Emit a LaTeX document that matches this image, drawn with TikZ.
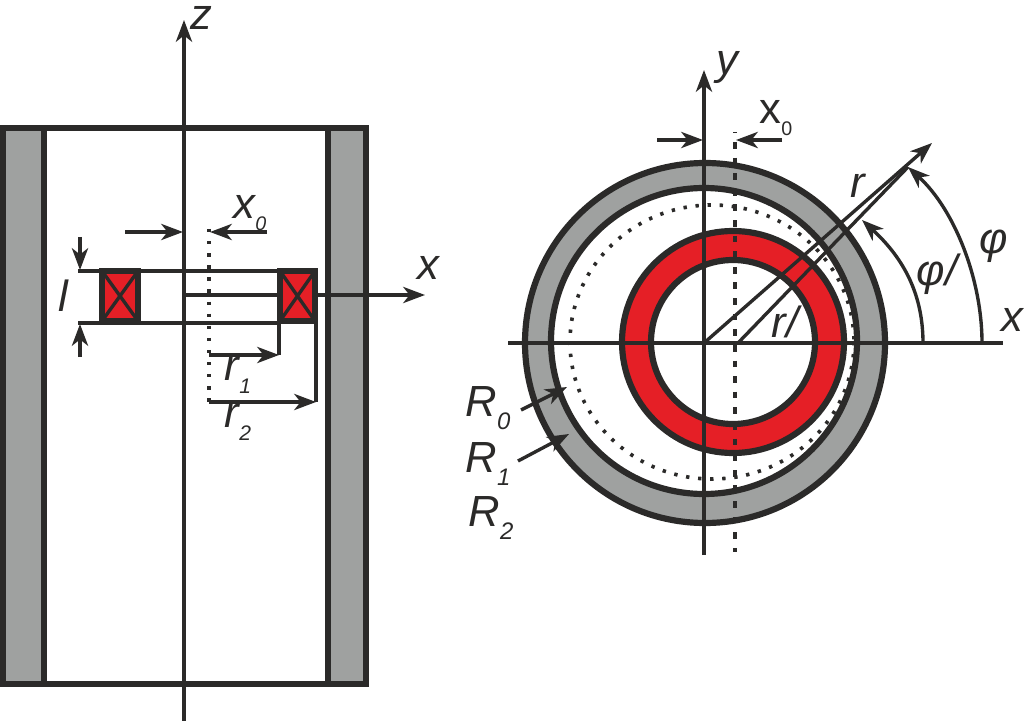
\documentclass[tikz,border=0pt]{standalone}
\usepackage{fontspec}
\setmainfont{Liberation Sans}
\usetikzlibrary{arrows.meta}
\definecolor{wallgray}{HTML}{9FA1A0}
\definecolor{coilred}{HTML}{E51F26}
\definecolor{inkdark}{HTML}{2B2A29}
\tikzset{
  axisline/.style={line width=2.4pt,draw=inkdark},
  wallline/.style={line width=4.4pt,draw=inkdark},
  arr/.style={axisline,-{Stealth[length=15.5pt,width=11.5pt,inset=4.5pt]}},
  dotline/.style={line width=2.6pt,draw=inkdark,dash pattern=on 2.4pt off 6.2pt},
  lab/.style={inner sep=0pt,text=inkdark,font=\fontsize{31}{31}\selectfont\itshape},
  coil/.style={wallline,fill=coilred},
}
\newcommand{\subs}[2][16]{\raisebox{-9pt}{\fontsize{#1}{#1}\selectfont #2}}
\begin{document}
\begin{tikzpicture}[x=0.025cm,y=-0.025cm]
\useasboundingbox (0,0) rectangle (1024,721);
% left view
\fill[wallgray] (3,128) rectangle (44,684);
\fill[wallgray] (328,128) rectangle (366,684);
\draw[wallline] (3,128) rectangle (366,684);
\draw[wallline] (44,128) -- (44,684);
\draw[wallline] (328,128) -- (328,684);
\draw[arr] (184,721) -- (184,20);
\draw[axisline] (78,271) -- (280,271);
\draw[axisline] (78,323) -- (280,323);
\draw[arr] (184,295) -- (425,295);
\draw[coil] (102,271) rectangle (138,321);
\draw[coil] (280,271) rectangle (315,321);
\draw[axisline] (102,271) -- (138,321) (138,271) -- (102,321);
\draw[axisline] (280,271) -- (315,321) (315,271) -- (280,321);
\draw[dotline] (209,229) -- (209,402);
\draw[arr] (125,232) -- (183,232);
\draw[arr] (267,232) -- (210,232);
\draw[arr] (80,237) -- (80,270);
\draw[arr] (80,357) -- (80,324);
\draw[axisline] (279,323) -- (279,355);
\draw[axisline] (316,323) -- (316,402);
\draw[arr] (209,355) -- (279,355);
\draw[arr] (209,402) -- (316,402);
\node[lab] (zlab) at (201,18) {z};
\node[lab] (xzero) at (250,213) {x\subs[14]{0}};
\node[lab] (xlab) at (428,268) {x};
\node[lab] (llab) at (63,296) {l};
\node[lab] (rone) at (238,375) {r\subs[15]{1}};
\node[lab] (rtwo) at (238,422) {r\subs[15]{2}};
% right view
\coordinate (orig) at (705,343);
\coordinate (shift) at (733,342);
\draw[dotline] (712,342) ellipse (142 and 137);
\fill[wallgray,even odd rule] (orig) circle (180) (704,341) circle (153);
\draw[wallline] (orig) circle (180);
\draw[wallline] (704,341) circle (153);
\draw[wallline,fill=coilred,even odd rule] (shift) circle (111) (shift) circle (82);
\draw[axisline] (508,343) -- (1003,343);
\draw[arr] (704,555) -- (704,70);
\draw[axisline] (735,132) -- (735,133);
\draw[line width=2.3pt,draw=inkdark,dash pattern=on 4.8pt off 6.3pt] (735,142) -- (735,552);
\draw[arr] (657,140) -- (703,140);
\draw[arr] (782,140) -- (736,140);
\draw[arr] (704,343) -- (932,143);
\draw[axisline] (738,343) -- (908,167);
\draw[arr] (923,343) .. controls (923,290) and (900,255) .. (862,220);
\draw[arr] (982,343) .. controls (982,280) and (955,210) .. (908,167);
\draw[arr] (521,410) -- (567,387);
\draw[arr] (518,461) -- (569,434);
\node[lab] (ylab) at (727,68) {y};
\node[lab,font=\fontsize{31}{31}\selectfont] (xzerob) at (776,118) {x\subs[14]{0}};
\node[lab] (rlab) at (858,186) {r};
\node[lab] (rprime) at (785,322) {r/};
\node[lab] (phiprime) at (937,274) {φ/};
\node[lab] (philab) at (994,246) {φ};
\node[lab] (xlabb) at (1012,320) {x};
\node[lab] (Rzero) at (488,408) {R\subs[17]{0}};
\node[lab] (Rone) at (488,464) {R\subs[17]{1}};
\node[lab] (Rtwo) at (491,518) {R\subs[17]{2}};
\end{tikzpicture}
\end{document}
